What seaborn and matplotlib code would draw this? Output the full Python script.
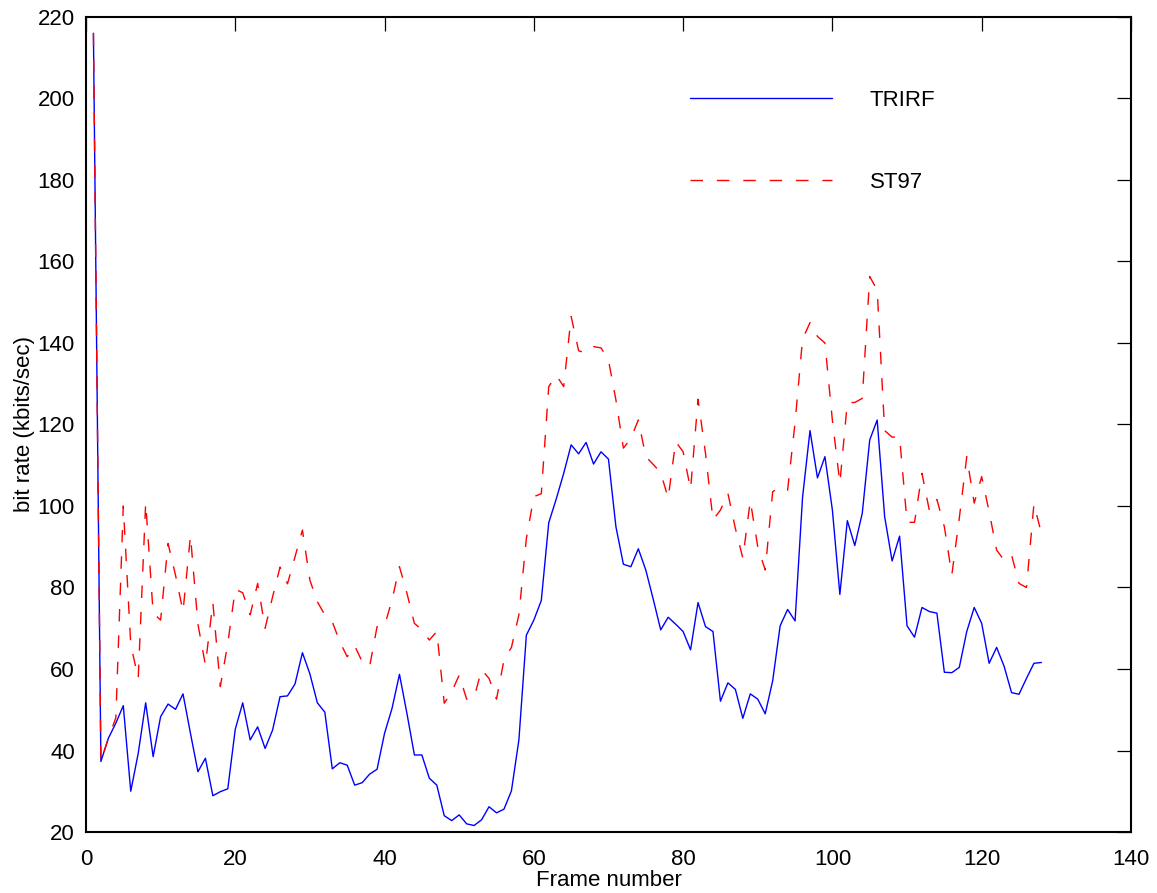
import numpy as np
import pandas as pd
import matplotlib
matplotlib.use('Agg')
import matplotlib.pyplot as plt
import seaborn as sns


## frame numbers and bit rates (kbits/sec)
frames = np.arange(1, 129)

trirf = [216, 37.3, 43, 46.7, 51, 30, 39.3, 51.7, 38.5, 48.3,
	51.4, 50.1, 53.9, 44.2, 34.8, 38.1, 28.9, 29.9, 30.6, 45.2,
	51.7, 42.6, 45.8, 40.5, 45.0, 53.2, 53.4, 56.3, 64.0, 58.8,
	51.7, 49.4, 35.5, 37.0, 36.4, 31.5, 32.1, 34.2, 35.4, 44.2,
	50.3, 58.7, 49.1, 38.9, 38.9, 33.2, 31.5, 24.0, 22.8, 24.2,
	22.0, 21.6, 23.0, 26.2, 24.7, 25.6, 30.1, 42.6, 68.3, 72.0,
	76.8, 95.9, 101.7, 108.0, 115.0, 112.8, 115.6, 110.3, 113.3, 111.5,
	94.9, 85.7, 85.1, 89.5, 84.3, 77.1, 69.6, 72.7, 71.0, 69.2,
	64.7, 76.3, 70.4, 69.2, 52.1, 56.6, 55.0, 47.9, 53.9, 52.6,
	49.0, 57.1, 70.6, 74.6, 71.8, 102.1, 118.5, 106.9, 112.1, 99.0,
	78.3, 96.4, 90.3, 98.2, 116.2, 121.1, 97.4, 86.5, 92.6, 70.6,
	67.8, 75.1, 74.1, 73.7, 59.2, 59.1, 60.4, 69.2, 75.1, 71.2,
	61.4, 65.3, 60.7, 54.2, 53.8, 57.7, 61.4, 61.6]

st97 = [216, 37.3, 43, 48, 100, 66, 57.7, 100.8, 73.7, 72,
	90.8, 83, 74.1, 92.7, 71, 61, 76.3, 55.7, 66.3, 79.6,
	78.7, 73.3, 81, 70, 77.7, 85, 80.9, 87.5, 94.1, 81.8,
	76.5, 73.3, 71.6, 66.7, 63, 65.7, 61.8, 60.6, 70.4, 70.6,
	76.9, 85.1, 78.6, 71.2, 69.6, 67.1, 69.2, 51.6, 54.4, 58.5,
	52.6, 53, 59.8, 57.7, 52.6, 62.2, 65.3, 73.3, 92, 102.3,
	103, 129.3, 132.1, 129.3, 146.5, 138.1, 137.5, 139.1, 138.8, 135.8,
	126, 114.2, 116.6, 121.1, 112.1, 110.2, 108.2, 101.9, 115.8, 113.3,
	104.1, 126.2, 112.9, 96.6, 99, 103.1, 94.5, 87.2, 101.3, 90,
	84.3, 103.5, 104.7, 103.9, 120.5, 140.9, 145, 141.6, 140, 121,
	105.6, 125.4, 125.4, 126.4, 156.3, 153, 118.5, 116.9, 117, 96,
	96, 108, 98.8, 101.6, 94.9, 83.1, 97, 112.1, 100.7, 107.2,
	98.6, 89.2, 86.7, 88, 81, 80, 100.5, 93.3]

x_ticks = np.arange(0, 141, 20)
y_ticks = np.arange(20, 221, 20)


sns.set_style("white")
plt.rcParams['font.family'] = ['Liberation Sans', 'DejaVu Sans']
for k in ['text.color', 'axes.labelcolor', 'xtick.color', 'ytick.color']:
	plt.rcParams[k] = 'black'

df = pd.DataFrame({'frame': frames, 'TRIRF': trirf, 'ST97': st97})

fig = plt.figure(figsize=(11.57, 8.93), dpi=100)
ax = fig.add_axes([0.0743, 0.0683, 0.9032, 0.9127])

sns.lineplot(data=df, x='frame', y='TRIRF', ax=ax, color='blue', lw=1.0, label='TRIRF')
sns.lineplot(data=df, x='frame', y='ST97', ax=ax, color='red', lw=1.0,
	linestyle=(0, (9, 10)), label='ST97')

ax.set_xlim(0, 140)
ax.set_ylim(20, 220)
ax.set_xticks(x_ticks)
ax.set_yticks(y_ticks)
ax.tick_params(direction='in', length=10, width=0.9, labelsize=16, pad=8,
	top=True, right=True, color='black', labelcolor='black')
ax.tick_params(axis='x', pad=12)
for s in ax.spines.values():
	s.set_color('black')
	s.set_linewidth(1.5)

ax.set_xlabel('Frame number', fontsize=16, labelpad=0)
ax.set_ylabel('bit rate (kbits/sec)', fontsize=16, labelpad=2)

ax.legend(loc='upper left', bbox_to_anchor=(0.578, 0.911), frameon=False,
	fontsize=16, handlelength=6.4, handletextpad=1.7, labelspacing=2.75,
	borderpad=0, borderaxespad=0)

plt.savefig('out.png', dpi=100)
